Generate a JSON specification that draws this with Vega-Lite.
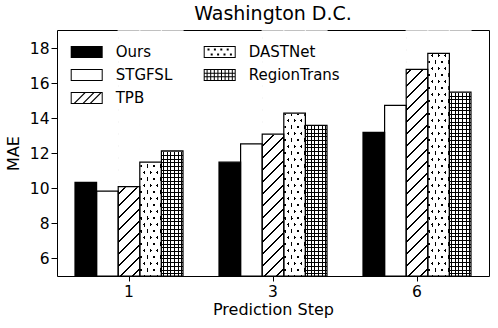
{
  "$schema": "https://vega.github.io/schema/vega-lite/v6.json",
  "width": 432,
  "height": 246,
  "autosize": {"type": "none"},
  "padding": {"left": 57, "top": 30, "right": 9, "bottom": 52},
  "background": "white",
  "title": {"text": "Washington D.C.", "fontSize": 19, "font": "DejaVu Sans", "fontWeight": "normal", "color": "black", "offset": 6},
  "config": {
    "view": {"stroke": "black", "strokeWidth": 1},
    "axis": {"labelFont": "DejaVu Sans", "titleFont": "DejaVu Sans", "labelColor": "black", "titleColor": "black", "tickColor": "black", "labelFontSize": 15.5, "titleFontSize": 16, "titleFontWeight": "normal", "grid": false, "domain": false}
  },
  "data": {"values": [
    {"step": "1", "model": "Ours", "mae": 10.35},
    {"step": "1", "model": "STGFSL", "mae": 9.85},
    {"step": "1", "model": "TPB", "mae": 10.1},
    {"step": "1", "model": "DASTNet", "mae": 11.5},
    {"step": "1", "model": "RegionTrans", "mae": 12.15},
    {"step": "3", "model": "Ours", "mae": 11.5},
    {"step": "3", "model": "STGFSL", "mae": 12.55},
    {"step": "3", "model": "TPB", "mae": 13.1},
    {"step": "3", "model": "DASTNet", "mae": 14.3},
    {"step": "3", "model": "RegionTrans", "mae": 13.6},
    {"step": "6", "model": "Ours", "mae": 13.2},
    {"step": "6", "model": "STGFSL", "mae": 14.75},
    {"step": "6", "model": "TPB", "mae": 16.8},
    {"step": "6", "model": "DASTNet", "mae": 17.72},
    {"step": "6", "model": "RegionTrans", "mae": 15.5}
  ]},
  "encoding": {
    "x": {"field": "step", "type": "nominal", "sort": ["1", "3", "6"], "scale": {"paddingInner": 0.25, "paddingOuter": 0.125},
      "axis": {"title": "Prediction Step", "labelAngle": 0, "tickSize": 5, "labelPadding": 3, "titlePadding": 2}},
    "xOffset": {"field": "model", "type": "nominal", "scale": {"domain": ["Ours", "STGFSL", "TPB", "DASTNet", "RegionTrans"], "paddingInner": 0, "paddingOuter": 0}}
  },
  "layer": [
    {
      "transform": [{"filter": "datum.model === 'TPB'"}],
      "mark": {"type": "bar", "strokeWidth": 0, "fill": {"gradient": "linear", "x1": 0, "y1": 0, "x2": 0.0952, "y2": 1.0798, "stops": [
        {"offset": 0, "color": "#fff"},
        {"offset": 0.0225, "color": "#fff"}, {"offset": 0.0225, "color": "#000"}, {"offset": 0.0300, "color": "#000"}, {"offset": 0.0300, "color": "#fff"},
        {"offset": 0.0675, "color": "#fff"}, {"offset": 0.0675, "color": "#000"}, {"offset": 0.0750, "color": "#000"}, {"offset": 0.0750, "color": "#fff"},
        {"offset": 0.1125, "color": "#fff"}, {"offset": 0.1125, "color": "#000"}, {"offset": 0.1200, "color": "#000"}, {"offset": 0.1200, "color": "#fff"},
        {"offset": 0.1575, "color": "#fff"}, {"offset": 0.1575, "color": "#000"}, {"offset": 0.1650, "color": "#000"}, {"offset": 0.1650, "color": "#fff"},
        {"offset": 0.2025, "color": "#fff"}, {"offset": 0.2025, "color": "#000"}, {"offset": 0.2100, "color": "#000"}, {"offset": 0.2100, "color": "#fff"},
        {"offset": 0.2475, "color": "#fff"}, {"offset": 0.2475, "color": "#000"}, {"offset": 0.2550, "color": "#000"}, {"offset": 0.2550, "color": "#fff"},
        {"offset": 0.2924, "color": "#fff"}, {"offset": 0.2924, "color": "#000"}, {"offset": 0.2999, "color": "#000"}, {"offset": 0.2999, "color": "#fff"},
        {"offset": 0.3374, "color": "#fff"}, {"offset": 0.3374, "color": "#000"}, {"offset": 0.3449, "color": "#000"}, {"offset": 0.3449, "color": "#fff"},
        {"offset": 0.3824, "color": "#fff"}, {"offset": 0.3824, "color": "#000"}, {"offset": 0.3899, "color": "#000"}, {"offset": 0.3899, "color": "#fff"},
        {"offset": 0.4274, "color": "#fff"}, {"offset": 0.4274, "color": "#000"}, {"offset": 0.4349, "color": "#000"}, {"offset": 0.4349, "color": "#fff"},
        {"offset": 0.4724, "color": "#fff"}, {"offset": 0.4724, "color": "#000"}, {"offset": 0.4799, "color": "#000"}, {"offset": 0.4799, "color": "#fff"},
        {"offset": 0.5174, "color": "#fff"}, {"offset": 0.5174, "color": "#000"}, {"offset": 0.5249, "color": "#000"}, {"offset": 0.5249, "color": "#fff"},
        {"offset": 0.5624, "color": "#fff"}, {"offset": 0.5624, "color": "#000"}, {"offset": 0.5699, "color": "#000"}, {"offset": 0.5699, "color": "#fff"},
        {"offset": 0.6074, "color": "#fff"}, {"offset": 0.6074, "color": "#000"}, {"offset": 0.6149, "color": "#000"}, {"offset": 0.6149, "color": "#fff"},
        {"offset": 0.6524, "color": "#fff"}, {"offset": 0.6524, "color": "#000"}, {"offset": 0.6599, "color": "#000"}, {"offset": 0.6599, "color": "#fff"},
        {"offset": 0.6974, "color": "#fff"}, {"offset": 0.6974, "color": "#000"}, {"offset": 0.7049, "color": "#000"}, {"offset": 0.7049, "color": "#fff"},
        {"offset": 0.7424, "color": "#fff"}, {"offset": 0.7424, "color": "#000"}, {"offset": 0.7499, "color": "#000"}, {"offset": 0.7499, "color": "#fff"},
        {"offset": 0.7874, "color": "#fff"}, {"offset": 0.7874, "color": "#000"}, {"offset": 0.7949, "color": "#000"}, {"offset": 0.7949, "color": "#fff"},
        {"offset": 0.8323, "color": "#fff"}, {"offset": 0.8323, "color": "#000"}, {"offset": 0.8398, "color": "#000"}, {"offset": 0.8398, "color": "#fff"},
        {"offset": 0.8773, "color": "#fff"}, {"offset": 0.8773, "color": "#000"}, {"offset": 0.8848, "color": "#000"}, {"offset": 0.8848, "color": "#fff"},
        {"offset": 0.9223, "color": "#fff"}, {"offset": 0.9223, "color": "#000"}, {"offset": 0.9298, "color": "#000"}, {"offset": 0.9298, "color": "#fff"},
        {"offset": 0.9673, "color": "#fff"}, {"offset": 0.9673, "color": "#000"}, {"offset": 0.9748, "color": "#000"}, {"offset": 0.9748, "color": "#fff"},
        {"offset": 1, "color": "#fff"}
      ]}},
      "encoding": {
        "y": {"datum": 5, "type": "quantitative", "title": "MAE", "scale": {"domain": [5, 19.05], "nice": false, "zero": false}},
        "y2": {"datum": 19}
      }
    },
    {
      "transform": [{"filter": "datum.model === 'DASTNet'"}],
      "mark": {"type": "bar", "strokeWidth": 0, "fill": {"gradient": "linear", "x1": 0, "y1": 1, "x2": 0.2011, "y2": -0.1408, "stops": [
        {"offset": 0, "color": "#fff"},
        {"offset": 0.0208, "color": "#fff"}, {"offset": 0.0208, "color": "#000"}, {"offset": 0.0347, "color": "#000"}, {"offset": 0.0347, "color": "#fff"},
        {"offset": 0.0659, "color": "#fff"}, {"offset": 0.0659, "color": "#000"}, {"offset": 0.0798, "color": "#000"}, {"offset": 0.0798, "color": "#fff"},
        {"offset": 0.1110, "color": "#fff"}, {"offset": 0.1110, "color": "#000"}, {"offset": 0.1249, "color": "#000"}, {"offset": 0.1249, "color": "#fff"},
        {"offset": 0.1561, "color": "#fff"}, {"offset": 0.1561, "color": "#000"}, {"offset": 0.1700, "color": "#000"}, {"offset": 0.1700, "color": "#fff"},
        {"offset": 0.2012, "color": "#fff"}, {"offset": 0.2012, "color": "#000"}, {"offset": 0.2151, "color": "#000"}, {"offset": 0.2151, "color": "#fff"},
        {"offset": 0.2463, "color": "#fff"}, {"offset": 0.2463, "color": "#000"}, {"offset": 0.2602, "color": "#000"}, {"offset": 0.2602, "color": "#fff"},
        {"offset": 0.2913, "color": "#fff"}, {"offset": 0.2913, "color": "#000"}, {"offset": 0.3052, "color": "#000"}, {"offset": 0.3052, "color": "#fff"},
        {"offset": 0.3364, "color": "#fff"}, {"offset": 0.3364, "color": "#000"}, {"offset": 0.3503, "color": "#000"}, {"offset": 0.3503, "color": "#fff"},
        {"offset": 0.3815, "color": "#fff"}, {"offset": 0.3815, "color": "#000"}, {"offset": 0.3954, "color": "#000"}, {"offset": 0.3954, "color": "#fff"},
        {"offset": 0.4266, "color": "#fff"}, {"offset": 0.4266, "color": "#000"}, {"offset": 0.4405, "color": "#000"}, {"offset": 0.4405, "color": "#fff"},
        {"offset": 0.4717, "color": "#fff"}, {"offset": 0.4717, "color": "#000"}, {"offset": 0.4856, "color": "#000"}, {"offset": 0.4856, "color": "#fff"},
        {"offset": 0.5168, "color": "#fff"}, {"offset": 0.5168, "color": "#000"}, {"offset": 0.5307, "color": "#000"}, {"offset": 0.5307, "color": "#fff"},
        {"offset": 0.5619, "color": "#fff"}, {"offset": 0.5619, "color": "#000"}, {"offset": 0.5758, "color": "#000"}, {"offset": 0.5758, "color": "#fff"},
        {"offset": 0.6070, "color": "#fff"}, {"offset": 0.6070, "color": "#000"}, {"offset": 0.6209, "color": "#000"}, {"offset": 0.6209, "color": "#fff"},
        {"offset": 0.6521, "color": "#fff"}, {"offset": 0.6521, "color": "#000"}, {"offset": 0.6660, "color": "#000"}, {"offset": 0.6660, "color": "#fff"},
        {"offset": 0.6972, "color": "#fff"}, {"offset": 0.6972, "color": "#000"}, {"offset": 0.7111, "color": "#000"}, {"offset": 0.7111, "color": "#fff"},
        {"offset": 0.7422, "color": "#fff"}, {"offset": 0.7422, "color": "#000"}, {"offset": 0.7561, "color": "#000"}, {"offset": 0.7561, "color": "#fff"},
        {"offset": 0.7873, "color": "#fff"}, {"offset": 0.7873, "color": "#000"}, {"offset": 0.8012, "color": "#000"}, {"offset": 0.8012, "color": "#fff"},
        {"offset": 0.8324, "color": "#fff"}, {"offset": 0.8324, "color": "#000"}, {"offset": 0.8463, "color": "#000"}, {"offset": 0.8463, "color": "#fff"},
        {"offset": 0.8775, "color": "#fff"}, {"offset": 0.8775, "color": "#000"}, {"offset": 0.8914, "color": "#000"}, {"offset": 0.8914, "color": "#fff"},
        {"offset": 0.9226, "color": "#fff"}, {"offset": 0.9226, "color": "#000"}, {"offset": 0.9365, "color": "#000"}, {"offset": 0.9365, "color": "#fff"},
        {"offset": 0.9677, "color": "#fff"}, {"offset": 0.9677, "color": "#000"}, {"offset": 0.9816, "color": "#000"}, {"offset": 0.9816, "color": "#fff"},
        {"offset": 1, "color": "#fff"}
      ]}},
      "encoding": {
        "y": {"datum": 5, "type": "quantitative", "title": "MAE", "scale": {"domain": [5, 19.05], "nice": false, "zero": false}},
        "y2": {"datum": 19}
      }
    },
    {
      "transform": [{"filter": "datum.model === 'DASTNet'"}],
      "mark": {"type": "bar", "strokeWidth": 0, "fill": {"gradient": "linear", "x1": 0, "y1": 0, "x2": 0.2011, "y2": 1.1408, "stops": [
        {"offset": 0, "color": "#fff"},
        {"offset": 0.0208, "color": "#fff"}, {"offset": 0.0208, "color": "rgba(255,255,255,0)"}, {"offset": 0.0347, "color": "rgba(255,255,255,0)"}, {"offset": 0.0347, "color": "#fff"},
        {"offset": 0.0659, "color": "#fff"}, {"offset": 0.0659, "color": "rgba(255,255,255,0)"}, {"offset": 0.0798, "color": "rgba(255,255,255,0)"}, {"offset": 0.0798, "color": "#fff"},
        {"offset": 0.1110, "color": "#fff"}, {"offset": 0.1110, "color": "rgba(255,255,255,0)"}, {"offset": 0.1249, "color": "rgba(255,255,255,0)"}, {"offset": 0.1249, "color": "#fff"},
        {"offset": 0.1561, "color": "#fff"}, {"offset": 0.1561, "color": "rgba(255,255,255,0)"}, {"offset": 0.1700, "color": "rgba(255,255,255,0)"}, {"offset": 0.1700, "color": "#fff"},
        {"offset": 0.2012, "color": "#fff"}, {"offset": 0.2012, "color": "rgba(255,255,255,0)"}, {"offset": 0.2151, "color": "rgba(255,255,255,0)"}, {"offset": 0.2151, "color": "#fff"},
        {"offset": 0.2463, "color": "#fff"}, {"offset": 0.2463, "color": "rgba(255,255,255,0)"}, {"offset": 0.2602, "color": "rgba(255,255,255,0)"}, {"offset": 0.2602, "color": "#fff"},
        {"offset": 0.2913, "color": "#fff"}, {"offset": 0.2913, "color": "rgba(255,255,255,0)"}, {"offset": 0.3052, "color": "rgba(255,255,255,0)"}, {"offset": 0.3052, "color": "#fff"},
        {"offset": 0.3364, "color": "#fff"}, {"offset": 0.3364, "color": "rgba(255,255,255,0)"}, {"offset": 0.3503, "color": "rgba(255,255,255,0)"}, {"offset": 0.3503, "color": "#fff"},
        {"offset": 0.3815, "color": "#fff"}, {"offset": 0.3815, "color": "rgba(255,255,255,0)"}, {"offset": 0.3954, "color": "rgba(255,255,255,0)"}, {"offset": 0.3954, "color": "#fff"},
        {"offset": 0.4266, "color": "#fff"}, {"offset": 0.4266, "color": "rgba(255,255,255,0)"}, {"offset": 0.4405, "color": "rgba(255,255,255,0)"}, {"offset": 0.4405, "color": "#fff"},
        {"offset": 0.4717, "color": "#fff"}, {"offset": 0.4717, "color": "rgba(255,255,255,0)"}, {"offset": 0.4856, "color": "rgba(255,255,255,0)"}, {"offset": 0.4856, "color": "#fff"},
        {"offset": 0.5168, "color": "#fff"}, {"offset": 0.5168, "color": "rgba(255,255,255,0)"}, {"offset": 0.5307, "color": "rgba(255,255,255,0)"}, {"offset": 0.5307, "color": "#fff"},
        {"offset": 0.5619, "color": "#fff"}, {"offset": 0.5619, "color": "rgba(255,255,255,0)"}, {"offset": 0.5758, "color": "rgba(255,255,255,0)"}, {"offset": 0.5758, "color": "#fff"},
        {"offset": 0.6070, "color": "#fff"}, {"offset": 0.6070, "color": "rgba(255,255,255,0)"}, {"offset": 0.6209, "color": "rgba(255,255,255,0)"}, {"offset": 0.6209, "color": "#fff"},
        {"offset": 0.6521, "color": "#fff"}, {"offset": 0.6521, "color": "rgba(255,255,255,0)"}, {"offset": 0.6660, "color": "rgba(255,255,255,0)"}, {"offset": 0.6660, "color": "#fff"},
        {"offset": 0.6972, "color": "#fff"}, {"offset": 0.6972, "color": "rgba(255,255,255,0)"}, {"offset": 0.7111, "color": "rgba(255,255,255,0)"}, {"offset": 0.7111, "color": "#fff"},
        {"offset": 0.7422, "color": "#fff"}, {"offset": 0.7422, "color": "rgba(255,255,255,0)"}, {"offset": 0.7561, "color": "rgba(255,255,255,0)"}, {"offset": 0.7561, "color": "#fff"},
        {"offset": 0.7873, "color": "#fff"}, {"offset": 0.7873, "color": "rgba(255,255,255,0)"}, {"offset": 0.8012, "color": "rgba(255,255,255,0)"}, {"offset": 0.8012, "color": "#fff"},
        {"offset": 0.8324, "color": "#fff"}, {"offset": 0.8324, "color": "rgba(255,255,255,0)"}, {"offset": 0.8463, "color": "rgba(255,255,255,0)"}, {"offset": 0.8463, "color": "#fff"},
        {"offset": 0.8775, "color": "#fff"}, {"offset": 0.8775, "color": "rgba(255,255,255,0)"}, {"offset": 0.8914, "color": "rgba(255,255,255,0)"}, {"offset": 0.8914, "color": "#fff"},
        {"offset": 0.9226, "color": "#fff"}, {"offset": 0.9226, "color": "rgba(255,255,255,0)"}, {"offset": 0.9365, "color": "rgba(255,255,255,0)"}, {"offset": 0.9365, "color": "#fff"},
        {"offset": 0.9677, "color": "#fff"}, {"offset": 0.9677, "color": "rgba(255,255,255,0)"}, {"offset": 0.9816, "color": "rgba(255,255,255,0)"}, {"offset": 0.9816, "color": "#fff"},
        {"offset": 1, "color": "#fff"}
      ]}},
      "encoding": {
        "y": {"datum": 5, "type": "quantitative", "title": "MAE", "scale": {"domain": [5, 19.05], "nice": false, "zero": false}},
        "y2": {"datum": 19}
      }
    },
    {
      "transform": [{"filter": "datum.model === 'RegionTrans'"}],
      "mark": {"type": "bar", "strokeWidth": 0, "fill": {"gradient": "linear", "x1": 0, "y1": 0, "x2": 1, "y2": 0, "stops": [
        {"offset": 0, "color": "#fff"},
        {"offset": 0.0833, "color": "#fff"}, {"offset": 0.0833, "color": "#000"}, {"offset": 0.1296, "color": "#000"}, {"offset": 0.1296, "color": "#fff"},
        {"offset": 0.25, "color": "#fff"}, {"offset": 0.25, "color": "#000"}, {"offset": 0.2963, "color": "#000"}, {"offset": 0.2963, "color": "#fff"},
        {"offset": 0.4167, "color": "#fff"}, {"offset": 0.4167, "color": "#000"}, {"offset": 0.463, "color": "#000"}, {"offset": 0.463, "color": "#fff"},
        {"offset": 0.5833, "color": "#fff"}, {"offset": 0.5833, "color": "#000"}, {"offset": 0.6296, "color": "#000"}, {"offset": 0.6296, "color": "#fff"},
        {"offset": 0.75, "color": "#fff"}, {"offset": 0.75, "color": "#000"}, {"offset": 0.7963, "color": "#000"}, {"offset": 0.7963, "color": "#fff"},
        {"offset": 0.9167, "color": "#fff"}, {"offset": 0.9167, "color": "#000"}, {"offset": 0.963, "color": "#000"}, {"offset": 0.963, "color": "#fff"},
        {"offset": 1, "color": "#fff"}
      ]}},
      "encoding": {
        "y": {"datum": 5, "type": "quantitative", "title": "MAE", "scale": {"domain": [5, 19.05], "nice": false, "zero": false}},
        "y2": {"datum": 19}
      }
    },
    {
      "transform": [{"filter": "datum.model === 'RegionTrans'"}],
      "mark": {"type": "bar", "strokeWidth": 0, "fill": {"gradient": "linear", "x1": 0, "y1": 0, "x2": 0, "y2": 1, "stops": [
        {"offset": 0, "color": "rgba(0,0,0,0)"},
        {"offset": 0.00755, "color": "rgba(0,0,0,0)"}, {"offset": 0.00755, "color": "#000"}, {"offset": 0.01163, "color": "#000"}, {"offset": 0.01163, "color": "rgba(0,0,0,0)"},
        {"offset": 0.02264, "color": "rgba(0,0,0,0)"}, {"offset": 0.02264, "color": "#000"}, {"offset": 0.02672, "color": "#000"}, {"offset": 0.02672, "color": "rgba(0,0,0,0)"},
        {"offset": 0.03774, "color": "rgba(0,0,0,0)"}, {"offset": 0.03774, "color": "#000"}, {"offset": 0.04182, "color": "#000"}, {"offset": 0.04182, "color": "rgba(0,0,0,0)"},
        {"offset": 0.05283, "color": "rgba(0,0,0,0)"}, {"offset": 0.05283, "color": "#000"}, {"offset": 0.05691, "color": "#000"}, {"offset": 0.05691, "color": "rgba(0,0,0,0)"},
        {"offset": 0.06793, "color": "rgba(0,0,0,0)"}, {"offset": 0.06793, "color": "#000"}, {"offset": 0.07201, "color": "#000"}, {"offset": 0.07201, "color": "rgba(0,0,0,0)"},
        {"offset": 0.08302, "color": "rgba(0,0,0,0)"}, {"offset": 0.08302, "color": "#000"}, {"offset": 0.0871, "color": "#000"}, {"offset": 0.0871, "color": "rgba(0,0,0,0)"},
        {"offset": 0.09812, "color": "rgba(0,0,0,0)"}, {"offset": 0.09812, "color": "#000"}, {"offset": 0.1022, "color": "#000"}, {"offset": 0.1022, "color": "rgba(0,0,0,0)"},
        {"offset": 0.11321, "color": "rgba(0,0,0,0)"}, {"offset": 0.11321, "color": "#000"}, {"offset": 0.11729, "color": "#000"}, {"offset": 0.11729, "color": "rgba(0,0,0,0)"},
        {"offset": 0.12831, "color": "rgba(0,0,0,0)"}, {"offset": 0.12831, "color": "#000"}, {"offset": 0.13239, "color": "#000"}, {"offset": 0.13239, "color": "rgba(0,0,0,0)"},
        {"offset": 0.1434, "color": "rgba(0,0,0,0)"}, {"offset": 0.1434, "color": "#000"}, {"offset": 0.14748, "color": "#000"}, {"offset": 0.14748, "color": "rgba(0,0,0,0)"},
        {"offset": 0.1585, "color": "rgba(0,0,0,0)"}, {"offset": 0.1585, "color": "#000"}, {"offset": 0.16258, "color": "#000"}, {"offset": 0.16258, "color": "rgba(0,0,0,0)"},
        {"offset": 0.17359, "color": "rgba(0,0,0,0)"}, {"offset": 0.17359, "color": "#000"}, {"offset": 0.17767, "color": "#000"}, {"offset": 0.17767, "color": "rgba(0,0,0,0)"},
        {"offset": 0.18869, "color": "rgba(0,0,0,0)"}, {"offset": 0.18869, "color": "#000"}, {"offset": 0.19277, "color": "#000"}, {"offset": 0.19277, "color": "rgba(0,0,0,0)"},
        {"offset": 0.20378, "color": "rgba(0,0,0,0)"}, {"offset": 0.20378, "color": "#000"}, {"offset": 0.20786, "color": "#000"}, {"offset": 0.20786, "color": "rgba(0,0,0,0)"},
        {"offset": 0.21888, "color": "rgba(0,0,0,0)"}, {"offset": 0.21888, "color": "#000"}, {"offset": 0.22296, "color": "#000"}, {"offset": 0.22296, "color": "rgba(0,0,0,0)"},
        {"offset": 0.23397, "color": "rgba(0,0,0,0)"}, {"offset": 0.23397, "color": "#000"}, {"offset": 0.23805, "color": "#000"}, {"offset": 0.23805, "color": "rgba(0,0,0,0)"},
        {"offset": 0.24907, "color": "rgba(0,0,0,0)"}, {"offset": 0.24907, "color": "#000"}, {"offset": 0.25315, "color": "#000"}, {"offset": 0.25315, "color": "rgba(0,0,0,0)"},
        {"offset": 0.26416, "color": "rgba(0,0,0,0)"}, {"offset": 0.26416, "color": "#000"}, {"offset": 0.26824, "color": "#000"}, {"offset": 0.26824, "color": "rgba(0,0,0,0)"},
        {"offset": 0.27926, "color": "rgba(0,0,0,0)"}, {"offset": 0.27926, "color": "#000"}, {"offset": 0.28334, "color": "#000"}, {"offset": 0.28334, "color": "rgba(0,0,0,0)"},
        {"offset": 0.29435, "color": "rgba(0,0,0,0)"}, {"offset": 0.29435, "color": "#000"}, {"offset": 0.29843, "color": "#000"}, {"offset": 0.29843, "color": "rgba(0,0,0,0)"},
        {"offset": 0.30945, "color": "rgba(0,0,0,0)"}, {"offset": 0.30945, "color": "#000"}, {"offset": 0.31353, "color": "#000"}, {"offset": 0.31353, "color": "rgba(0,0,0,0)"},
        {"offset": 0.32454, "color": "rgba(0,0,0,0)"}, {"offset": 0.32454, "color": "#000"}, {"offset": 0.32862, "color": "#000"}, {"offset": 0.32862, "color": "rgba(0,0,0,0)"},
        {"offset": 0.33964, "color": "rgba(0,0,0,0)"}, {"offset": 0.33964, "color": "#000"}, {"offset": 0.34372, "color": "#000"}, {"offset": 0.34372, "color": "rgba(0,0,0,0)"},
        {"offset": 0.35473, "color": "rgba(0,0,0,0)"}, {"offset": 0.35473, "color": "#000"}, {"offset": 0.35881, "color": "#000"}, {"offset": 0.35881, "color": "rgba(0,0,0,0)"},
        {"offset": 0.36983, "color": "rgba(0,0,0,0)"}, {"offset": 0.36983, "color": "#000"}, {"offset": 0.37391, "color": "#000"}, {"offset": 0.37391, "color": "rgba(0,0,0,0)"},
        {"offset": 0.38492, "color": "rgba(0,0,0,0)"}, {"offset": 0.38492, "color": "#000"}, {"offset": 0.389, "color": "#000"}, {"offset": 0.389, "color": "rgba(0,0,0,0)"},
        {"offset": 0.40002, "color": "rgba(0,0,0,0)"}, {"offset": 0.40002, "color": "#000"}, {"offset": 0.4041, "color": "#000"}, {"offset": 0.4041, "color": "rgba(0,0,0,0)"},
        {"offset": 0.41511, "color": "rgba(0,0,0,0)"}, {"offset": 0.41511, "color": "#000"}, {"offset": 0.41919, "color": "#000"}, {"offset": 0.41919, "color": "rgba(0,0,0,0)"},
        {"offset": 0.43021, "color": "rgba(0,0,0,0)"}, {"offset": 0.43021, "color": "#000"}, {"offset": 0.43429, "color": "#000"}, {"offset": 0.43429, "color": "rgba(0,0,0,0)"},
        {"offset": 0.4453, "color": "rgba(0,0,0,0)"}, {"offset": 0.4453, "color": "#000"}, {"offset": 0.44938, "color": "#000"}, {"offset": 0.44938, "color": "rgba(0,0,0,0)"},
        {"offset": 0.4604, "color": "rgba(0,0,0,0)"}, {"offset": 0.4604, "color": "#000"}, {"offset": 0.46448, "color": "#000"}, {"offset": 0.46448, "color": "rgba(0,0,0,0)"},
        {"offset": 0.47549, "color": "rgba(0,0,0,0)"}, {"offset": 0.47549, "color": "#000"}, {"offset": 0.47957, "color": "#000"}, {"offset": 0.47957, "color": "rgba(0,0,0,0)"},
        {"offset": 0.49059, "color": "rgba(0,0,0,0)"}, {"offset": 0.49059, "color": "#000"}, {"offset": 0.49467, "color": "#000"}, {"offset": 0.49467, "color": "rgba(0,0,0,0)"},
        {"offset": 0.50568, "color": "rgba(0,0,0,0)"}, {"offset": 0.50568, "color": "#000"}, {"offset": 0.50976, "color": "#000"}, {"offset": 0.50976, "color": "rgba(0,0,0,0)"},
        {"offset": 0.52078, "color": "rgba(0,0,0,0)"}, {"offset": 0.52078, "color": "#000"}, {"offset": 0.52486, "color": "#000"}, {"offset": 0.52486, "color": "rgba(0,0,0,0)"},
        {"offset": 0.53587, "color": "rgba(0,0,0,0)"}, {"offset": 0.53587, "color": "#000"}, {"offset": 0.53995, "color": "#000"}, {"offset": 0.53995, "color": "rgba(0,0,0,0)"},
        {"offset": 0.55097, "color": "rgba(0,0,0,0)"}, {"offset": 0.55097, "color": "#000"}, {"offset": 0.55505, "color": "#000"}, {"offset": 0.55505, "color": "rgba(0,0,0,0)"},
        {"offset": 0.56606, "color": "rgba(0,0,0,0)"}, {"offset": 0.56606, "color": "#000"}, {"offset": 0.57014, "color": "#000"}, {"offset": 0.57014, "color": "rgba(0,0,0,0)"},
        {"offset": 0.58116, "color": "rgba(0,0,0,0)"}, {"offset": 0.58116, "color": "#000"}, {"offset": 0.58524, "color": "#000"}, {"offset": 0.58524, "color": "rgba(0,0,0,0)"},
        {"offset": 0.59625, "color": "rgba(0,0,0,0)"}, {"offset": 0.59625, "color": "#000"}, {"offset": 0.60033, "color": "#000"}, {"offset": 0.60033, "color": "rgba(0,0,0,0)"},
        {"offset": 0.61135, "color": "rgba(0,0,0,0)"}, {"offset": 0.61135, "color": "#000"}, {"offset": 0.61543, "color": "#000"}, {"offset": 0.61543, "color": "rgba(0,0,0,0)"},
        {"offset": 0.62644, "color": "rgba(0,0,0,0)"}, {"offset": 0.62644, "color": "#000"}, {"offset": 0.63052, "color": "#000"}, {"offset": 0.63052, "color": "rgba(0,0,0,0)"},
        {"offset": 0.64154, "color": "rgba(0,0,0,0)"}, {"offset": 0.64154, "color": "#000"}, {"offset": 0.64562, "color": "#000"}, {"offset": 0.64562, "color": "rgba(0,0,0,0)"},
        {"offset": 0.65663, "color": "rgba(0,0,0,0)"}, {"offset": 0.65663, "color": "#000"}, {"offset": 0.66071, "color": "#000"}, {"offset": 0.66071, "color": "rgba(0,0,0,0)"},
        {"offset": 0.67173, "color": "rgba(0,0,0,0)"}, {"offset": 0.67173, "color": "#000"}, {"offset": 0.67581, "color": "#000"}, {"offset": 0.67581, "color": "rgba(0,0,0,0)"},
        {"offset": 0.68682, "color": "rgba(0,0,0,0)"}, {"offset": 0.68682, "color": "#000"}, {"offset": 0.6909, "color": "#000"}, {"offset": 0.6909, "color": "rgba(0,0,0,0)"},
        {"offset": 0.70192, "color": "rgba(0,0,0,0)"}, {"offset": 0.70192, "color": "#000"}, {"offset": 0.706, "color": "#000"}, {"offset": 0.706, "color": "rgba(0,0,0,0)"},
        {"offset": 0.71701, "color": "rgba(0,0,0,0)"}, {"offset": 0.71701, "color": "#000"}, {"offset": 0.72109, "color": "#000"}, {"offset": 0.72109, "color": "rgba(0,0,0,0)"},
        {"offset": 0.73211, "color": "rgba(0,0,0,0)"}, {"offset": 0.73211, "color": "#000"}, {"offset": 0.73619, "color": "#000"}, {"offset": 0.73619, "color": "rgba(0,0,0,0)"},
        {"offset": 0.7472, "color": "rgba(0,0,0,0)"}, {"offset": 0.7472, "color": "#000"}, {"offset": 0.75128, "color": "#000"}, {"offset": 0.75128, "color": "rgba(0,0,0,0)"},
        {"offset": 0.7623, "color": "rgba(0,0,0,0)"}, {"offset": 0.7623, "color": "#000"}, {"offset": 0.76638, "color": "#000"}, {"offset": 0.76638, "color": "rgba(0,0,0,0)"},
        {"offset": 0.77739, "color": "rgba(0,0,0,0)"}, {"offset": 0.77739, "color": "#000"}, {"offset": 0.78147, "color": "#000"}, {"offset": 0.78147, "color": "rgba(0,0,0,0)"},
        {"offset": 0.79249, "color": "rgba(0,0,0,0)"}, {"offset": 0.79249, "color": "#000"}, {"offset": 0.79657, "color": "#000"}, {"offset": 0.79657, "color": "rgba(0,0,0,0)"},
        {"offset": 0.80758, "color": "rgba(0,0,0,0)"}, {"offset": 0.80758, "color": "#000"}, {"offset": 0.81166, "color": "#000"}, {"offset": 0.81166, "color": "rgba(0,0,0,0)"},
        {"offset": 0.82268, "color": "rgba(0,0,0,0)"}, {"offset": 0.82268, "color": "#000"}, {"offset": 0.82676, "color": "#000"}, {"offset": 0.82676, "color": "rgba(0,0,0,0)"},
        {"offset": 0.83777, "color": "rgba(0,0,0,0)"}, {"offset": 0.83777, "color": "#000"}, {"offset": 0.84185, "color": "#000"}, {"offset": 0.84185, "color": "rgba(0,0,0,0)"},
        {"offset": 0.85287, "color": "rgba(0,0,0,0)"}, {"offset": 0.85287, "color": "#000"}, {"offset": 0.85695, "color": "#000"}, {"offset": 0.85695, "color": "rgba(0,0,0,0)"},
        {"offset": 0.86796, "color": "rgba(0,0,0,0)"}, {"offset": 0.86796, "color": "#000"}, {"offset": 0.87204, "color": "#000"}, {"offset": 0.87204, "color": "rgba(0,0,0,0)"},
        {"offset": 0.88306, "color": "rgba(0,0,0,0)"}, {"offset": 0.88306, "color": "#000"}, {"offset": 0.88714, "color": "#000"}, {"offset": 0.88714, "color": "rgba(0,0,0,0)"},
        {"offset": 0.89815, "color": "rgba(0,0,0,0)"}, {"offset": 0.89815, "color": "#000"}, {"offset": 0.90223, "color": "#000"}, {"offset": 0.90223, "color": "rgba(0,0,0,0)"},
        {"offset": 0.91325, "color": "rgba(0,0,0,0)"}, {"offset": 0.91325, "color": "#000"}, {"offset": 0.91733, "color": "#000"}, {"offset": 0.91733, "color": "rgba(0,0,0,0)"},
        {"offset": 0.92834, "color": "rgba(0,0,0,0)"}, {"offset": 0.92834, "color": "#000"}, {"offset": 0.93242, "color": "#000"}, {"offset": 0.93242, "color": "rgba(0,0,0,0)"},
        {"offset": 0.94344, "color": "rgba(0,0,0,0)"}, {"offset": 0.94344, "color": "#000"}, {"offset": 0.94752, "color": "#000"}, {"offset": 0.94752, "color": "rgba(0,0,0,0)"},
        {"offset": 0.95853, "color": "rgba(0,0,0,0)"}, {"offset": 0.95853, "color": "#000"}, {"offset": 0.96261, "color": "#000"}, {"offset": 0.96261, "color": "rgba(0,0,0,0)"},
        {"offset": 0.97363, "color": "rgba(0,0,0,0)"}, {"offset": 0.97363, "color": "#000"}, {"offset": 0.97771, "color": "#000"}, {"offset": 0.97771, "color": "rgba(0,0,0,0)"},
        {"offset": 0.98872, "color": "rgba(0,0,0,0)"}, {"offset": 0.98872, "color": "#000"}, {"offset": 0.9928, "color": "#000"}, {"offset": 0.9928, "color": "rgba(0,0,0,0)"},
        {"offset": 1, "color": "rgba(0,0,0,0)"}
      ]}},
      "encoding": {
        "y": {"datum": 5, "type": "quantitative", "title": "MAE", "scale": {"domain": [5, 19.05], "nice": false, "zero": false}},
        "y2": {"datum": 19}
      }
    },
    {
      "transform": [{"filter": "datum.model === 'TPB' || datum.model === 'DASTNet' || datum.model === 'RegionTrans'"}],
      "mark": {"type": "bar", "fill": "white", "stroke": "white", "strokeWidth": 1.2},
      "encoding": {
        "y": {"field": "mae", "type": "quantitative", "title": "MAE", "scale": {"domain": [5, 19.05], "nice": false, "zero": false}},
        "y2": {"datum": 19}
      }
    },
    {
      "mark": {"type": "bar", "stroke": "black", "strokeWidth": 1.2, "fill": "transparent"},
      "encoding": {
        "y": {"field": "mae", "type": "quantitative", "title": "MAE", "scale": {"domain": [5, 19.05], "nice": false, "zero": false},
          "axis": {"title": "MAE", "values": [6, 8, 10, 12, 14, 16, 18], "tickSize": 6, "labelPadding": 2, "titlePadding": 8}},
        "y2": {"datum": 5},
        "fill": {"condition": {"test": "datum.model === 'Ours'", "value": "black"}, "value": "transparent"}
      }
    },
    {
      "mark": {"type": "point", "filled": true, "fill": "black", "opacity": 0, "strokeWidth": 0},
      "encoding": {
        "y": {"field": "mae", "type": "quantitative", "title": "MAE", "scale": {"domain": [5, 19.05], "nice": false, "zero": false}},
        "shape": {"field": "model", "type": "nominal",
          "scale": {"domain": ["Ours", "STGFSL", "TPB", "DASTNet", "RegionTrans"], "range": [
            "M-2,-0.75H2V0.75H-2Z",
            "M-2,-0.75H2V0.75H-2ZM-1.875,-0.625V0.625H1.875V-0.625Z",
            "M-2,-0.75H2V0.75H-2ZM-1.875,-0.625V0.625H1.875V-0.625ZM-1.6,0.625L-0.35,-0.625L-0.15,-0.625L-1.4,0.625ZM-0.5,0.625L0.75,-0.625L0.95,-0.625L-0.3,0.625ZM0.4,0.625L1.65,-0.625L1.85,-0.625L0.6,0.625Z",
            "M-2,-0.75H2V0.75H-2ZM-1.875,-0.625V0.625H1.875V-0.625ZM-1.525,-0.425H-1.275V-0.175H-1.525ZM-0.725,-0.425H-0.475V-0.175H-0.725ZM0.075,-0.425H0.325V-0.175H0.075ZM0.875,-0.425H1.125V-0.175H0.875ZM-1.125,0.175H-0.875V0.425H-1.125ZM-0.325,0.175H-0.075V0.425H-0.325ZM0.475,0.175H0.725V0.425H0.475ZM1.275,0.175H1.525V0.425H1.275Z",
            "M-2,-0.75H2V0.75H-2ZM-1.875,-0.625V0.625H1.875V-0.625ZM-1.6375,-0.625H-1.5125V0.625H-1.6375ZM-1.1875,-0.625H-1.0625V0.625H-1.1875ZM-0.7375,-0.625H-0.6125V0.625H-0.7375ZM-0.2875,-0.625H-0.1625V0.625H-0.2875ZM0.1625,-0.625H0.2875V0.625H0.1625ZM0.6125,-0.625H0.7375V0.625H0.6125ZM1.0625,-0.625H1.1875V0.625H1.0625ZM1.5125,-0.625H1.6375V0.625H1.5125ZM-1.875,-0.2875H1.875V-0.1625H-1.875ZM-1.875,0.1625H1.875V0.2875H-1.875Z"
          ]},
          "legend": {
            "orient": "none", "legendX": 21.7, "legendY": 14, "columns": 2, "title": null,
            "symbolSize": 256, "symbolStrokeWidth": 0, "symbolOpacity": 1, "symbolFillColor": "black",
            "labelFont": "DejaVu Sans", "labelFontSize": 15, "labelColor": "black", "labelOffset": 21,
            "columnPadding": 31, "rowPadding": 7, "padding": 0
          }
        }
      }
    }
  ]
}
